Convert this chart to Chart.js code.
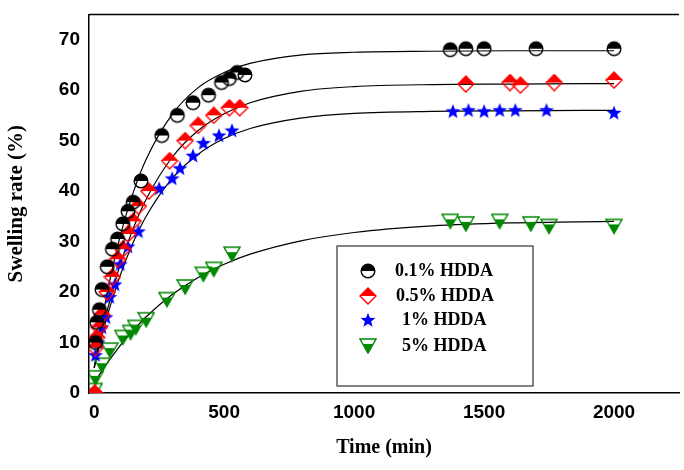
<!DOCTYPE html>
<html><head><meta charset="utf-8">
<script src="https://cdn.jsdelivr.net/npm/chart.js@4"></script>
<style>html,body{margin:0;padding:0;background:#fff}#w{width:684px;height:470px}</style>
</head><body><div id="w"><canvas id="c" width="684" height="470"></canvas></div>
<script>
const labels = ["0.1% HDDA","0.5% HDDA","1% HDDA","5% HDDA"];
const t01 = [5,10,20,30,50,70,90,110,130,150,180,260,320,380,440,490,520,550,580,1370,1430,1500,1700,2000];
const y01 = [10,14,16.5,20.5,25,28.5,30.5,33.5,36,37.8,42,51,55,57.5,59,61.5,62.3,63.5,63,68,68.2,68.2,68.2,68.2];
const t05 = [2,5,10,20,30,50,70,90,110,130,150,170,210,290,350,400,460,520,560,1430,1600,1640,1770,2000];
const y05 = [0,9,11,13,15.5,20,23,26.5,28.5,31.5,34,37,40,46,50,53,55,56.5,56.5,61.2,61.5,61,61.5,62];
const t1 = [5,15,30,45,60,80,100,130,170,250,300,330,380,420,480,530,1380,1440,1500,1560,1620,1740,2000];
const y1 = [7.5,10,13,15,19,21.5,25.5,29,32,40.5,42.5,44.5,47,49.5,51,52,55.8,56,55.8,56,56,56,55.5];
const t5 = [0,5,30,60,110,140,160,200,280,350,420,460,530,1370,1430,1560,1680,1750,2000];
const y5 = [0.5,3,5.5,8.5,11,12,13,14.5,18.5,21,23.5,24.5,27.5,34,33.5,34,33.5,33,33];
const fitT = [0,25,50,100,150,200,300,400,500,600,800,1000,1300,1600,2000];
const fit01 = [5,12.9,19.8,31.1,39.7,46.3,55.2,60.5,63.5,65.3,67,67.5,67.7,67.8,67.8];
const fit05 = [5,11.0,16.3,25.4,32.6,38.4,46.7,52.0,55.3,57.5,59.8,60.7,61.1,61.2,61.3];
const fit1 = [5,10.4,15.2,23.3,29.8,35.0,42.5,47.3,50.4,52.4,54.5,55.4,55.8,55.9,56];
const fit5 = [2,4.0,5.9,9.4,12.4,15.1,19.5,22.9,25.5,27.5,30.2,31.8,33.1,33.7,34.0];

function mk(draw){const c=document.createElement('canvas');c.width=18;c.height=18;const g=c.getContext('2d');g.lineWidth=1.4;draw(g);return c;}
const mCircle = mk(g=>{g.fillStyle='#000';g.beginPath();g.arc(9,9,6.8,Math.PI,0);g.fill();g.strokeStyle='#000';g.beginPath();g.arc(9,9,6.8,0,Math.PI*2);g.stroke();});
const mDiamond = mk(g=>{g.fillStyle='#f00';g.strokeStyle='#f00';g.beginPath();g.moveTo(1,9);g.lineTo(9,1);g.lineTo(17,9);g.closePath();g.fill();g.beginPath();g.moveTo(1,9);g.lineTo(9,1);g.lineTo(17,9);g.lineTo(9,17);g.closePath();g.stroke();});
const mStar = mk(g=>{g.fillStyle='#00f';g.beginPath();for(let i=0;i<10;i++){const r=i%2?3.3:7.8;const a=-Math.PI/2+i*Math.PI/5;g.lineTo(9+r*Math.cos(a),9.5+r*Math.sin(a));}g.closePath();g.fill();});
const mTri = mk(g=>{g.fillStyle='#080';g.strokeStyle='#080';g.beginPath();g.moveTo(4,7);g.lineTo(14,7);g.lineTo(9,16);g.closePath();g.fill();g.beginPath();g.moveTo(1,2);g.lineTo(17,2);g.lineTo(9,16);g.closePath();g.stroke();});
const markers=[mCircle,mDiamond,mStar,mTri];

const pts=(t,y)=>t.map((v,i)=>({x:v,y:y[i]}));
const fitDs=f=>({type:'line',data:pts(fitT,f),borderColor:'#000',borderWidth:1.2,pointRadius:0,cubicInterpolationMode:'monotone',fill:false,order:2});
const scat=(t,y,m)=>({type:'scatter',data:pts(t,y),pointStyle:m,order:1});

const legendPlugin={id:'lg',afterDraw(ch){const g=ch.ctx;g.save();g.strokeStyle='#333';g.lineWidth=1.2;g.strokeRect(337,246,196,140);
g.font='bold 18px "Liberation Serif"';g.fillStyle='#000';g.textBaseline='middle';
const ys=[271,296,320,346];const xs=[395,396,402,402];
labels.forEach((l,i)=>{g.drawImage(markers[i],359,ys[i]-9);g.fillText(l,xs[i],ys[i]);});g.restore();}};

new Chart(document.getElementById('c'),{
data:{datasets:[fitDs(fit01),fitDs(fit05),fitDs(fit1),fitDs(fit5),scat(t01,y01,mCircle),scat(t05,y05,mDiamond),scat(t1,y1,mStar),scat(t5,y5,mTri)]},
options:{responsive:false,animation:false,layout:{padding:{top:8,right:0,left:0,bottom:6}},
plugins:{legend:{display:false},tooltip:{enabled:false}},
scales:{
x:{type:'linear',min:-20,max:2250,afterFit(s){s.height=71;},afterBuildTicks(s){s.ticks=[0,250,500,750,1000,1250,1500,1750,2000].map(v=>({value:v}));},
grid:{display:false,drawTicks:true,tickLength:6,tickColor:'#000'},border:{color:'#000',width:1.5},
ticks:{color:'#000',font:{family:'"Liberation Sans"',weight:'bold',size:19},maxRotation:0,padding:2,callback:v=>v%500===0?v:''},
title:{display:true,text:'Time (min)',color:'#000',padding:{top:8},font:{family:'"Liberation Serif"',weight:'bold',size:20}}},
y:{min:0,max:75,afterFit(s){s.width=89;},afterBuildTicks(s){s.ticks=[0,5,10,15,20,25,30,35,40,45,50,55,60,65,70].map(v=>({value:v}));},
grid:{display:false,tickLength:6,tickColor:'#000'},border:{color:'#000',width:1.5},
ticks:{color:'#000',font:{family:'"Liberation Sans"',weight:'bold',size:19},callback:v=>v%10===0?v:''},
title:{display:true,text:'Swelling rate (%)',color:'#000',font:{family:'"Liberation Serif"',weight:'bold',size:21}}}
}},
plugins:[legendPlugin,{id:'top',afterDraw(ch){const g=ch.ctx,a=ch.chartArea;g.save();g.strokeStyle='#000';g.lineWidth=1.5;g.beginPath();g.moveTo(a.left,a.top);g.lineTo(a.right,a.top);g.stroke();g.restore();}}]
});
</script></body></html>
